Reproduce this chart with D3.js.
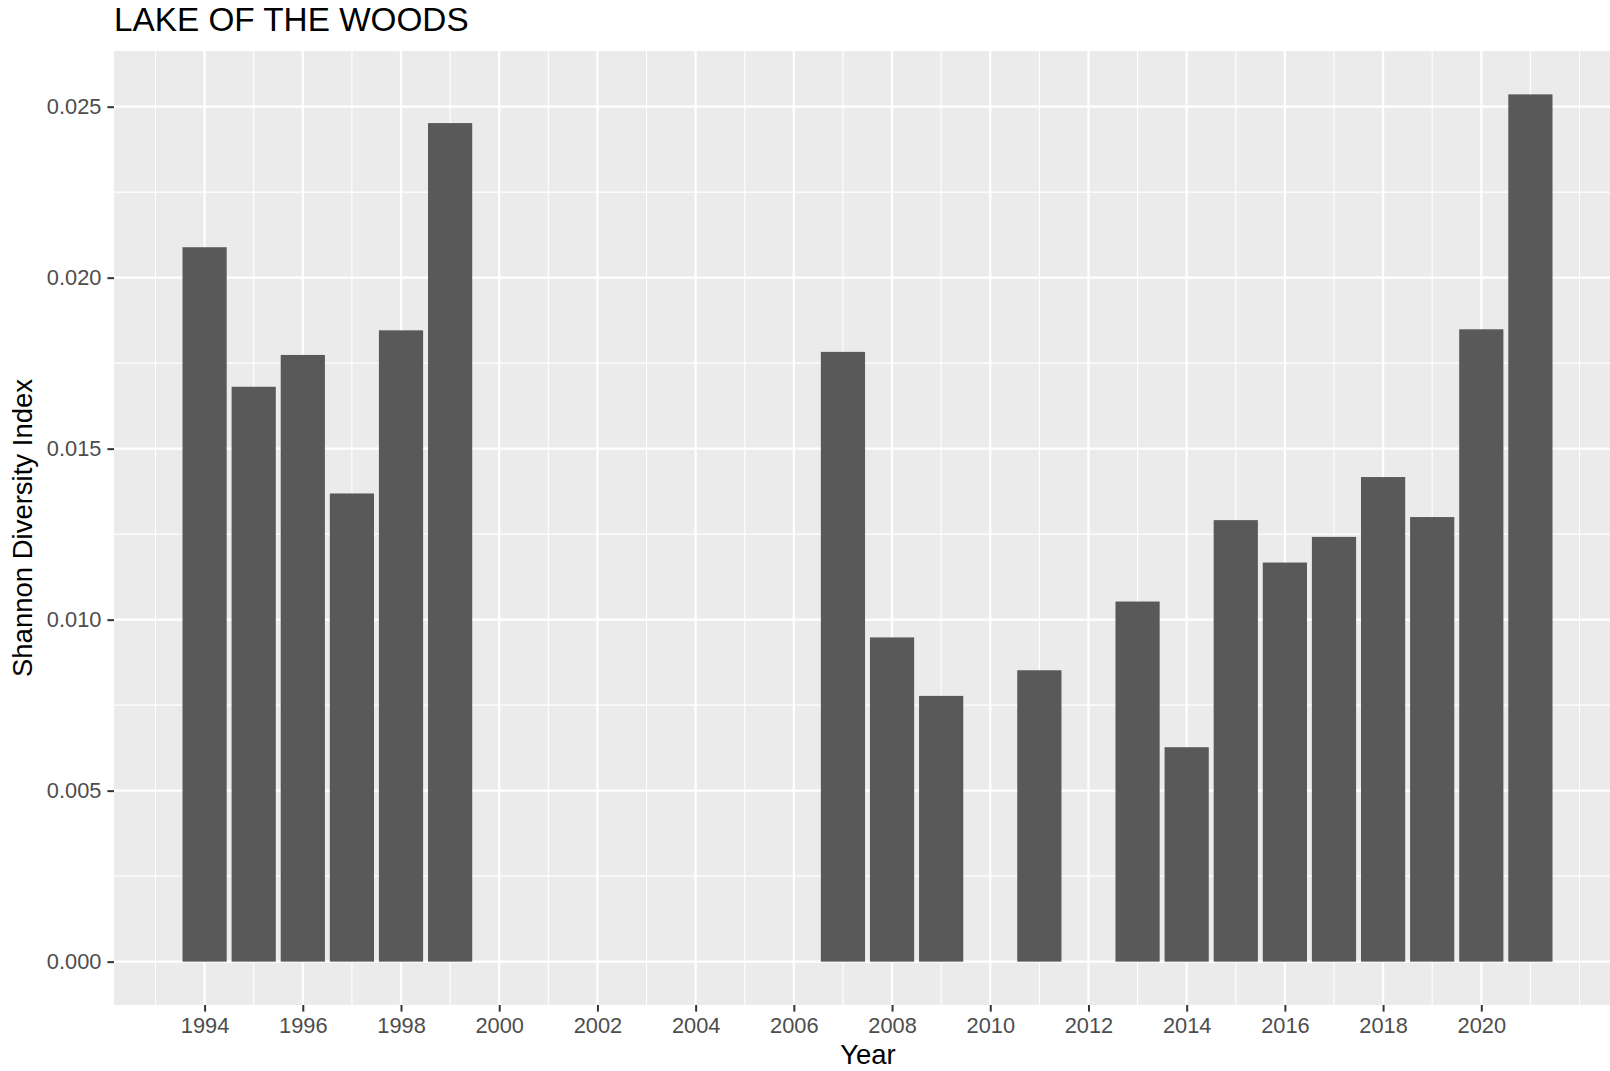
<!DOCTYPE html>
<html>
<head>
<meta charset="utf-8">
<script src="https://cdn.jsdelivr.net/npm/d3@7"></script>
<style>
  html, body { margin: 0; padding: 0; background: #ffffff; }
  svg { display: block; font-family: "Liberation Sans", Arial, Helvetica, sans-serif; }
</style>
</head>
<body>
<svg id="chart" width="1610" height="1071"></svg>
<script>
// Shannon diversity index by sampling year
const years = [1994, 1995, 1996, 1997, 1998, 1999, 2007, 2008, 2009, 2011, 2013, 2014, 2015, 2016, 2017, 2018, 2019, 2020, 2021];
const shannon = [0.02089, 0.01681, 0.01774, 0.01369, 0.01846, 0.02452, 0.01783, 0.00948, 0.00777, 0.00852, 0.01053, 0.00627, 0.01291, 0.01167, 0.01242, 0.01417, 0.01300, 0.01849, 0.02536];
const xTicks = [1994, 1996, 1998, 2000, 2002, 2004, 2006, 2008, 2010, 2012, 2014, 2016, 2018, 2020];
const xMinor = [1993, 1995, 1997, 1999, 2001, 2003, 2005, 2007, 2009, 2011, 2013, 2015, 2017, 2019, 2021, 2022];
const yTicks = [0.000, 0.005, 0.010, 0.015, 0.020, 0.025];
const yMinor = [0.0025, 0.0075, 0.0125, 0.0175, 0.0225];

const chartTitle = "LAKE OF THE WOODS";
const xTitle = "Year";
const yTitle = "Shannon Diversity Index";

const svg = d3.select("#chart");
const panel = { left: 114, top: 51, bottom: 1005, right: 1621 };

// Continuous x with bars 0.9 wide and 5% padding on each side
const barW = 0.9;
const xLo = d3.min(years) - barW / 2, xHi = d3.max(years) + barW / 2;
const xPad = (xHi - xLo) * 0.05;
const x = d3.scaleLinear().domain([xLo - xPad, xHi + xPad]).range([panel.left, panel.right]);

const yMax = d3.max(shannon);
const yPad = yMax * 0.05;
const y = d3.scaleLinear().domain([-yPad, yMax + yPad]).range([panel.bottom, panel.top]);

// Panel background
svg.append("rect")
  .attr("x", panel.left).attr("y", panel.top)
  .attr("width", panel.right - panel.left).attr("height", panel.bottom - panel.top)
  .attr("fill", "#EBEBEB");

const grid = svg.append("g");
grid.selectAll("line.ymin").data(yMinor).join("line")
  .attr("x1", panel.left).attr("x2", panel.right)
  .attr("y1", d => y(d)).attr("y2", d => y(d))
  .attr("stroke", "#ffffff").attr("stroke-width", 1.1);
grid.selectAll("line.xmin").data(xMinor).join("line")
  .attr("y1", panel.top).attr("y2", panel.bottom)
  .attr("x1", d => x(d)).attr("x2", d => x(d))
  .attr("stroke", "#ffffff").attr("stroke-width", 1.1);
grid.selectAll("line.ymaj").data(yTicks).join("line")
  .attr("x1", panel.left).attr("x2", panel.right)
  .attr("y1", d => y(d)).attr("y2", d => y(d))
  .attr("stroke", "#ffffff").attr("stroke-width", 2.2);
grid.selectAll("line.xmaj").data(xTicks).join("line")
  .attr("y1", panel.top).attr("y2", panel.bottom)
  .attr("x1", d => x(d)).attr("x2", d => x(d))
  .attr("stroke", "#ffffff").attr("stroke-width", 2.2);

// Bars
svg.append("g").selectAll("rect").data(years).join("rect")
  .attr("x", (d) => x(d - barW / 2))
  .attr("width", (d) => x(d + barW / 2) - x(d - barW / 2))
  .attr("y", (d, i) => y(shannon[i]))
  .attr("height", (d, i) => y(0) - y(shannon[i]))
  .attr("fill", "#595959");

// Axes
const tickFont = 21.8;
const xAxis = d3.axisBottom(x).tickValues(xTicks).tickFormat(d3.format("d"))
  .tickSize(6.6).tickPadding(6);
const gx = svg.append("g").attr("transform", `translate(0,${panel.bottom})`).call(xAxis);
gx.select(".domain").remove();
gx.selectAll(".tick line").attr("stroke", "#333333").attr("stroke-width", 2);
gx.selectAll(".tick text").attr("fill", "#4D4D4D").attr("font-size", tickFont)
  .attr("font-family", "'Liberation Sans', Arial, sans-serif");

const yAxis = d3.axisLeft(y).tickValues(yTicks).tickFormat(d3.format(".3f"))
  .tickSize(6.6).tickPadding(6);
const gy = svg.append("g").attr("transform", `translate(${panel.left},0)`).call(yAxis);
gy.select(".domain").remove();
gy.selectAll(".tick line").attr("stroke", "#333333").attr("stroke-width", 2);
gy.selectAll(".tick text").attr("fill", "#4D4D4D").attr("font-size", tickFont)
  .attr("font-family", "'Liberation Sans', Arial, sans-serif");

// Titles
svg.append("text").attr("x", 114).attr("y", 31)
  .attr("font-size", 33.3).attr("fill", "#000").text(chartTitle);
svg.append("text").attr("x", 868).attr("y", 1064)
  .attr("text-anchor", "middle").attr("font-size", 27.5).attr("fill", "#000").text(xTitle);
svg.append("text")
  .attr("transform", `translate(32,${(panel.top + panel.bottom) / 2}) rotate(-90)`)
  .attr("text-anchor", "middle").attr("font-size", 27.5).attr("fill", "#000").text(yTitle);
</script>
</body>
</html>
